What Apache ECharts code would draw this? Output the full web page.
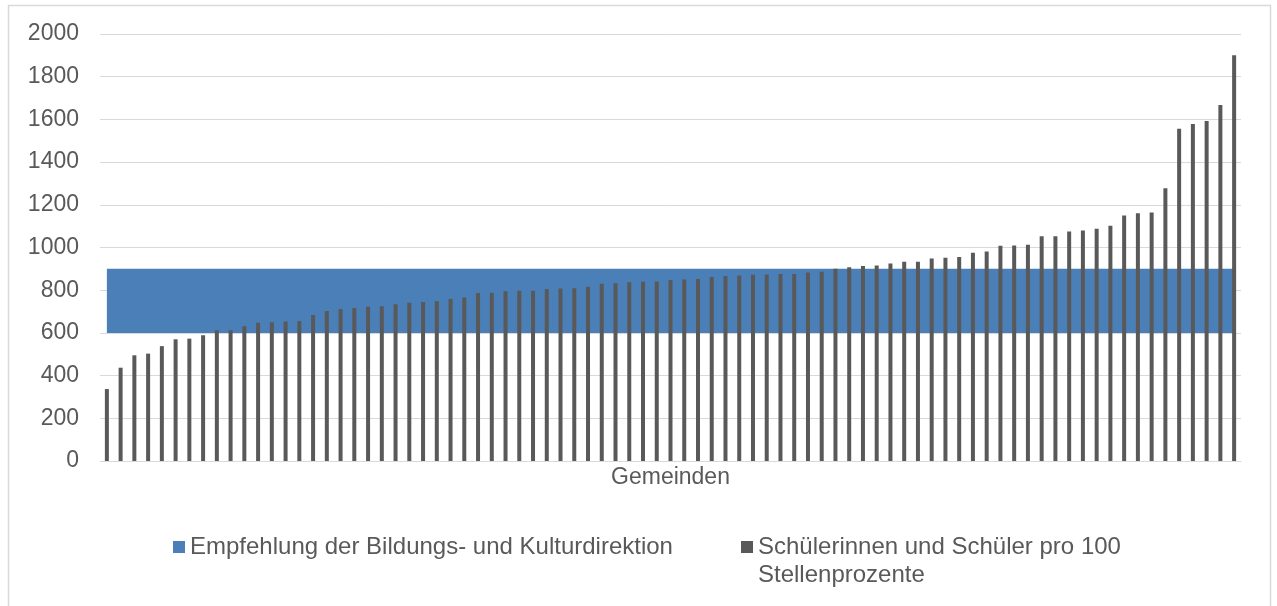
<!DOCTYPE html>
<html>
<head>
<meta charset="utf-8">
<script src="https://cdn.jsdelivr.net/npm/echarts@6/dist/echarts.min.js"></script>
<style>
  html, body { margin: 0; padding: 0; background: #ffffff; }
  #chart { width: 1277px; height: 606px; }
</style>
</head>
<body>
<div id="chart"></div>
<script>
// ---- data ----
const studentsPer100 = [
  337, 437, 495, 503, 538, 570, 573, 589, 612, 612,
  631, 647, 650, 653, 656, 684, 703, 712, 717, 722,
  725, 734, 741, 745, 748, 759, 766, 787, 788, 795,
  797, 797, 806, 808, 809, 816, 830, 833, 837, 839,
  841, 848, 850, 853, 862, 867, 869, 872, 873, 876,
  876, 883, 887, 900, 908, 913, 916, 925, 933, 933,
  949, 952, 955, 975, 981, 1008, 1009, 1013, 1053, 1053,
  1075, 1080, 1088, 1102, 1150, 1160, 1164, 1277, 1556, 1579,
  1592, 1667, 1900
];
const recommendationLow = 600;
const recommendationHigh = 900;
const yTicks = [0, 200, 400, 600, 800, 1000, 1200, 1400, 1600, 1800, 2000];
const gemeinden = studentsPer100.map((_, i) => 'Gemeinde ' + (i + 1));

const nameRec = 'Empfehlung der Bildungs- und Kulturdirektion';
const nameStud = 'Schülerinnen und Schüler pro 100 Stellenprozente';
const legendStudLines = ['Schülerinnen und Schüler pro 100', 'Stellenprozente'];

const bandLow = gemeinden.map(() => recommendationLow);
const bandWidth = gemeinden.map(() => recommendationHigh - recommendationLow);

const txt = '#595959';
const font = '"Liberation Sans", Arial, sans-serif';

const chart = echarts.init(document.getElementById('chart'), null, { renderer: 'canvas' });
chart.setOption({
  animation: false,
  backgroundColor: '#ffffff',
  textStyle: { fontFamily: font },
  graphic: [{
    type: 'rect', silent: true, z: -10,
    shape: { x: 8.5, y: 5.5, width: 1262, height: 640 },
    style: { fill: 'none', stroke: '#d9d9d9', lineWidth: 1.5 }
  }],
  grid: { left: 100, right: 36, top: 34, bottom: 145, containLabel: false },
  legend: [{
    data: [{ name: nameRec, icon: 'rect' }],
    left: 173, top: 535, padding: 0,
    itemWidth: 12, itemHeight: 12,
    textStyle: { color: txt, fontSize: 24, fontFamily: font }
  }, {
    data: [{ name: nameStud, icon: 'rect' }],
    left: 741, top: 505, padding: 0,
    itemWidth: 12, itemHeight: 12,
    formatter: () => ' \n' + legendStudLines.join('\n'),
    textStyle: { color: txt, fontSize: 24, lineHeight: 28, fontFamily: font }
  }],
  xAxis: {
    type: 'category',
    data: gemeinden,
    boundaryGap: true,
    name: 'Gemeinden',
    nameLocation: 'middle',
    nameGap: 5,
    nameTextStyle: { color: txt, fontSize: 23, fontFamily: font, verticalAlign: 'top' },
    axisLine: { lineStyle: { color: '#d9d9d9', width: 1 } },
    axisTick: { show: false },
    axisLabel: { show: false },
    splitLine: { show: false }
  },
  yAxis: {
    type: 'value',
    min: yTicks[0],
    max: yTicks[yTicks.length - 1],
    interval: yTicks[1] - yTicks[0],
    axisLine: { show: false },
    axisTick: { show: false },
    axisLabel: { color: txt, fontSize: 23, fontFamily: font, margin: 21, formatter: v => String(v) },
    splitLine: { lineStyle: { color: '#d9d9d9', width: 1 } }
  },
  series: [{
    name: 'band-base',
    type: 'line',
    stack: 'rec',
    data: bandLow,
    symbol: 'none',
    lineStyle: { width: 0, opacity: 0 },
    areaStyle: { opacity: 0 },
    silent: true,
    z: 1
  }, {
    name: nameRec,
    type: 'line',
    stack: 'rec',
    data: bandWidth,
    symbol: 'none',
    itemStyle: { color: '#4A7FB8' },
    lineStyle: { width: 0, opacity: 0 },
    areaStyle: { color: '#4A7FB8', opacity: 1 },
    z: 1
  }, {
    name: nameStud,
    type: 'bar',
    data: studentsPer100,
    barWidth: 4,
    itemStyle: { color: '#595959' },
    z: 3
  }]
});
</script>
</body>
</html>
